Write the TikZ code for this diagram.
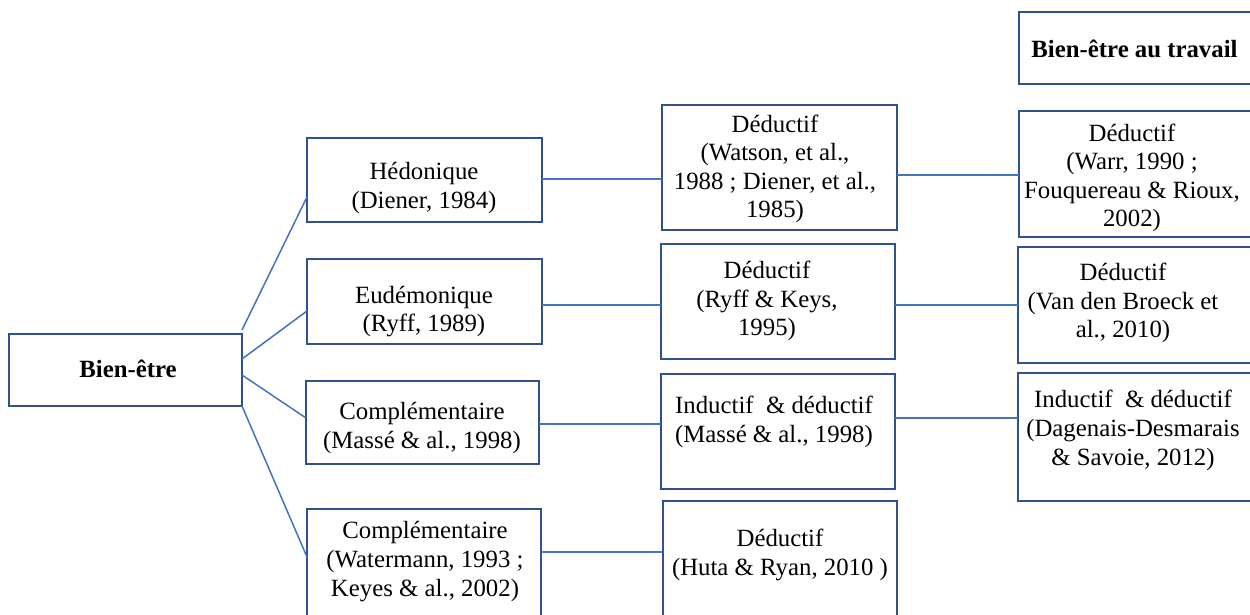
\documentclass[tikz,border=0pt]{standalone}
\usepackage{fontspec}
\setmainfont{Liberation Serif}
\definecolor{boxblue}{HTML}{2F528F}
\definecolor{lineblue}{HTML}{4472C4}
\begin{document}
\begin{tikzpicture}[x=0.5pt,y=-0.5pt,
  box/.style={draw=boxblue, line width=1pt, inner sep=0pt, outer sep=0pt, rectangle},
  txt/.style={align=center, font=\fontsize{12.4}{14.3}\selectfont, inner sep=0pt, text=black},
  conn/.style={draw=lineblue, line width=0.75pt}]
\useasboundingbox (0,0) rectangle (1250,615);
\clip (0,0) rectangle (1250,615);
\fill[white] (0,0) rectangle (1250,615);
% boxes
\node[box, minimum width=116.5pt, minimum height=36pt] (be) at (125.5,370) {};
\node[box, minimum width=117.5pt, minimum height=42pt] (hed) at (424.5,180) {};
\node[box, minimum width=117.5pt, minimum height=42.5pt] (eud) at (424.5,301.5) {};
\node[box, minimum width=116.5pt, minimum height=41.5pt] (c1) at (422.5,422.5) {};
\node[box, minimum width=117pt, minimum height=58pt] (c2) at (424,567) {};
\node[box, minimum width=117.5pt, minimum height=62.5pt] (d1) at (779.5,167.5) {};
\node[box, minimum width=117pt, minimum height=57.5pt] (d2) at (778,301.5) {};
\node[box, minimum width=117pt, minimum height=57.5pt] (id) at (778,431.5) {};
\node[box, minimum width=117pt, minimum height=64.5pt] (d4) at (780,565.5) {};
\node[box, minimum width=121.5pt, minimum height=36pt] (bat) at (1140.5,48) {};
\node[box, minimum width=121.5pt, minimum height=63pt] (w1) at (1140.5,174) {};
\node[box, minimum width=122pt, minimum height=58pt] (w2) at (1140,305) {};
\node[box, minimum width=122pt, minimum height=64pt] (w3) at (1140,437) {};
% texts
\node[txt, font=\fontsize{12.4}{14.3}\selectfont\bfseries] (tbe) at (128,369) {Bien-être};
\node[txt] (thed) at (424,188) {Hédonique\\(Diener, 1984)};
\node[txt] (teud) at (424,311.5) {Eudémonique\\(Ryff, 1989)};
\node[txt] (tc1) at (422,428) {Complémentaire\\(Massé \& al., 1998)};
\node[txt] (tc2) at (425,561.5) {Complémentaire\\(Watermann, 1993 ;\\Keyes \& al., 2002)};
\node[txt] (td1) at (775,169) {Déductif\\(Watson, et al.,\\1988 ; Diener, et al.,\\1985)};
\node[txt] (td2) at (767,301) {Déductif\\(Ryff \& Keys,\\1995)};
\node[txt] (tid) at (774,422) {Inductif\ \ \& déductif\\(Massé \& al., 1998)};
\node[txt] (td4) at (780,555) {Déductif\\(Huta \& Ryan, 2010 )};
\node[txt, font=\fontsize{12.4}{14.3}\selectfont\bfseries] (tbat) at (1134.5,49) {Bien-être au travail};
\node[txt] (tw1) at (1132,178) {Déductif\\(Warr, 1990 ;\\Fouquereau \& Rioux,\\2002)};
\node[txt] (tw2) at (1123,303) {Déductif\\(Van den Broeck et\\al., 2010)};
\node[txt] (tw3) at (1133,430.5) {Inductif\ \ \& déductif\\(Dagenais-Desmarais\\\& Savoie, 2012)};
% connectors from Bien-être
\draw[conn] ([yshift=2pt]be.north east) -- ([yshift=-8.5pt]hed.west);
\draw[conn] ([yshift=5.5pt]be.east) -- ([yshift=-4.75pt]eud.west);
\draw[conn] ([yshift=-2.5pt]be.east) -- ([yshift=2.25pt]c1.west);
\draw[conn] (be.south east) -- ([yshift=-24pt]c2.north west);
% column 2 -> 3
\coordinate (a1) at ([yshift=0.5pt]hed.east);
\coordinate (a2) at ([yshift=-1.75pt]eud.east);
\coordinate (a3) at ([yshift=-0.75pt]c1.east);
\coordinate (a4) at ([yshift=7.5pt]c2.east);
\draw[conn] (a1) -- (a1 -| d1.west);
\draw[conn] (a2) -- (a2 -| d2.west);
\draw[conn] (a3) -- (a3 -| id.west);
\draw[conn] (a4) -- (a4 -| d4.west);
% column 3 -> 4
\coordinate (b1) at ([yshift=-3.75pt]d1.east);
\coordinate (b2) at ([yshift=-1.75pt]d2.east);
\coordinate (b3) at ([yshift=6.75pt]id.east);
\draw[conn] (b1) -- (b1 -| w1.west);
\draw[conn] (b2) -- (b2 -| w2.west);
\draw[conn] (b3) -- (b3 -| w3.west);
\end{tikzpicture}
\end{document}
